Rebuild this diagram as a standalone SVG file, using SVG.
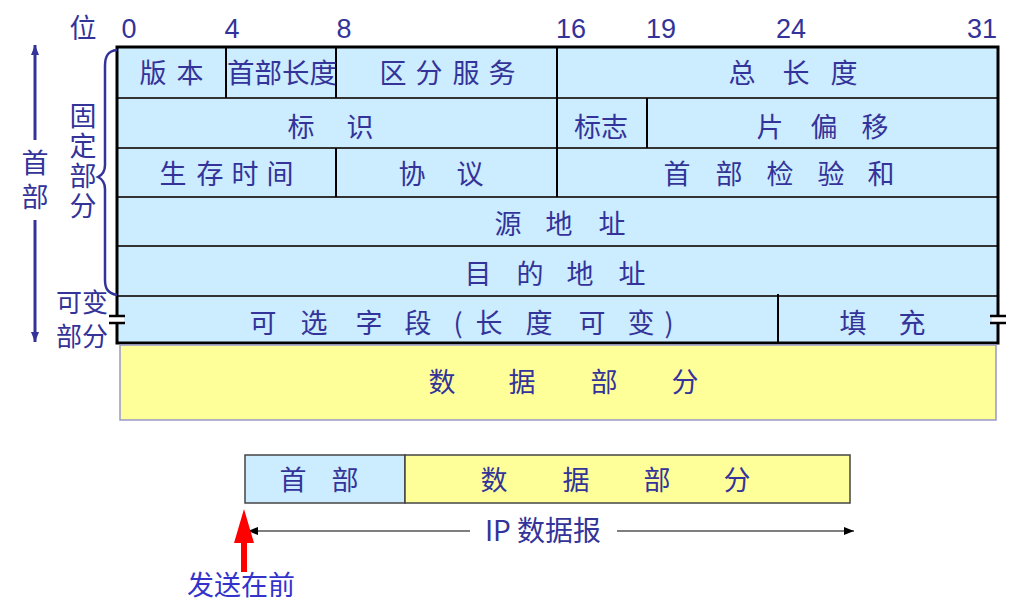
<svg xmlns="http://www.w3.org/2000/svg" width="1009" height="612" viewBox="0 0 1009 612">
<style>
.t{font-family:"Noto Sans CJK SC","Liberation Sans",sans-serif;font-size:27px;fill:#333399;text-anchor:middle;dominant-baseline:central}
.v{font-family:"Noto Sans CJK SC","Liberation Sans",sans-serif;font-size:27px;fill:#333399;writing-mode:vertical-rl;dominant-baseline:central}
.n{font-family:"Liberation Sans",Arial,sans-serif;font-size:27px;fill:#333399;text-anchor:middle}
.cell{fill:#CCECFF;stroke:none}
.row{stroke:#333;stroke-width:2}
.col{stroke:#000;stroke-width:2}
</style>
<defs>
<marker id="ah" viewBox="0 0 10 8" refX="10" refY="4" markerWidth="10" markerHeight="8" markerUnits="userSpaceOnUse" orient="auto-start-reverse"><path d="M0,0 L10,4 L0,8 z" fill="#000"/></marker>
<marker id="bh" viewBox="0 0 10 16" refX="10" refY="8" markerWidth="10" markerHeight="16" markerUnits="userSpaceOnUse" orient="auto-start-reverse"><path d="M0,4 L10,8 L0,12 z" fill="#333399"/></marker>
</defs>
<rect width="1009" height="612" fill="#fff"/>

<g id="bit-labels">
<text class="t" x="83" y="26">位</text>
<text class="n" x="129" y="38">0</text>
<text class="n" x="232" y="38">4</text>
<text class="n" x="344" y="38">8</text>
<text class="n" x="571" y="38">16</text>
<text class="n" x="661" y="38">19</text>
<text class="n" x="791" y="38">24</text>
<text class="n" x="982" y="38">31</text>
</g>

<g id="header">
<rect class="cell" x="117" y="47" width="881" height="296"/>
<line class="row" x1="117" y1="98" x2="998" y2="98"/>
<line class="row" x1="117" y1="148" x2="998" y2="148"/>
<line class="row" x1="117" y1="197" x2="998" y2="197"/>
<line class="row" x1="117" y1="246" x2="998" y2="246"/>
<line class="row" x1="117" y1="296" x2="998" y2="296"/>
<line class="col" x1="226" y1="47" x2="226" y2="98"/>
<line class="col" x1="336" y1="47" x2="336" y2="98"/>
<line class="col" x1="557" y1="47" x2="557" y2="197"/>
<line class="col" x1="647" y1="98" x2="647" y2="148"/>
<line class="col" x1="336" y1="148" x2="336" y2="197"/>
<line class="col" x1="778" y1="294" x2="778" y2="344"/>
<rect x="117" y="47" width="881" height="296" fill="none" stroke="#000" stroke-width="3"/>
<rect x="112" y="317" width="12" height="5" fill="#fff"/>
<line x1="109" y1="316" x2="125" y2="316" stroke="#000" stroke-width="2.5"/>
<line x1="109" y1="323" x2="125" y2="323" stroke="#000" stroke-width="2.5"/>
<rect x="992" y="317" width="12" height="5" fill="#fff"/>
<line x1="990" y1="316" x2="1006" y2="316" stroke="#000" stroke-width="2.5"/>
<line x1="990" y1="323" x2="1006" y2="323" stroke="#000" stroke-width="2.5"/>
</g>

<g id="version"><text class="t" x="153 190" y="71">版本</text></g>
<g id="ihl"><text class="t" x="282" y="71" style="font-size:27.5px">首部长度</text></g>
<g id="tos"><text class="t" x="393 429 466 502" y="71">区分服务</text></g>
<g id="total-length"><text class="t" x="742 796 844" y="71">总长度</text></g>
<g id="identification"><text class="t" x="301 360" y="125">标识</text></g>
<g id="flags"><text class="t" x="601" y="125">标志</text></g>
<g id="fragment-offset"><text class="t" x="770 824 875" y="125">片偏移</text></g>
<g id="ttl"><text class="t" x="173 210 245 280" y="172">生存时间</text></g>
<g id="protocol"><text class="t" x="412 470" y="172">协议</text></g>
<g id="checksum"><text class="t" x="677 729 780 831 881" y="172">首部检验和</text></g>
<g id="src"><text class="t" x="508 559 612" y="222">源地址</text></g>
<g id="dst"><text class="t" x="478 530 580 632" y="272">目的地址</text></g>
<g id="options"><text class="t" x="263 314 369 418 458 489 539 592 641 669" y="321">可选字段(长度可变)</text></g>
<g id="padding"><text class="t" x="853 912" y="321">填充</text></g>

<g id="data">
<rect x="120" y="345" width="876" height="75" fill="#FFFF99" stroke="#9999CC" stroke-width="1.5"/>
<text class="t" x="442 522 604 685" y="380">数据部分</text>
</g>

<g id="side-labels">
<path d="M117,50 C108,51 105,56 105,66 L105,165 C105,171 102,175 98,177 C102,179 105,183 105,189 L105,280 C105,289 108,293 117,295" fill="none" stroke="#333399" stroke-width="2.5"/>
<text class="v" x="83" y="102" style="letter-spacing:3px">固定部分</text>
<text class="t" x="82" y="300" style="font-size:26px">可变</text>
<text class="t" x="82" y="334" style="font-size:26px">部分</text>
<text class="v" x="35" y="149" style="letter-spacing:7px">首部</text>
</g>

<g id="datagram">
<rect x="245" y="455" width="160" height="48" fill="#CCECFF" stroke="#444" stroke-width="1.5"/>
<rect x="405" y="455" width="445" height="48" fill="#FFFF99" stroke="#444" stroke-width="1.5"/>
<text class="t" x="293 345" y="478">首部</text>
<text class="t" x="494 576 657 737" y="478">数据部分</text>
<text class="t" x="543" y="529" style="font-size:28px">IP 数据报</text>
<text class="t" x="241" y="583" style="fill:#3333CC">发送在前</text>
</g>

<g id="connectors">
<line x1="35" y1="140" x2="35" y2="45" stroke="#333399" stroke-width="3" marker-end="url(#bh)"/>
<line x1="35" y1="220" x2="35" y2="342" stroke="#333399" stroke-width="3" marker-end="url(#bh)"/>
<line x1="470" y1="531" x2="248" y2="531" stroke="#000" stroke-width="1.2" marker-end="url(#ah)"/>
<line x1="617" y1="531" x2="854" y2="531" stroke="#000" stroke-width="1.2" marker-end="url(#ah)"/>
<path d="M241,572 L241,543 L234,543 L244,509 L254,543 L247,543 L247,572 z" fill="#FF0000"/>
</g>
</svg>
